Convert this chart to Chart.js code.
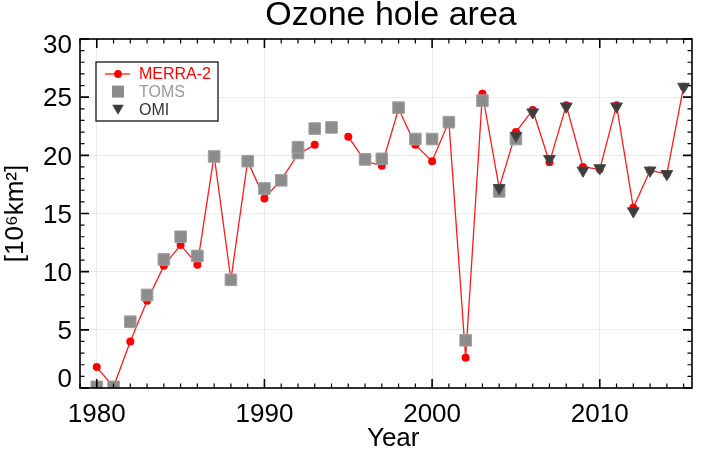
<!DOCTYPE html>
<html>
<head>
<meta charset="utf-8">
<title>Ozone hole area</title>
<script src="https://cdn.jsdelivr.net/npm/chart.js@4.4.1/dist/chart.umd.min.js"></script>
<style>
  body { margin: 0; background: #fff; }
  canvas { display: block; }
</style>
</head>
<body>
<canvas id="ozoneChart" width="705" height="453"></canvas>
<script>
// MERRA-2 (no value for 1994, so the line breaks there)
const merraYears = [1980, 1981, 1982, 1983, 1984, 1985, 1986, 1987, 1988, 1989,
                    1990, 1991, 1992, 1993, 1994, 1995, 1996, 1997, 1998, 1999,
                    2000, 2001, 2002, 2003, 2004, 2005, 2006, 2007, 2008, 2009,
                    2010, 2011, 2012, 2013, 2014, 2015];
const merraArea = [1.8, 0.1, 4.0, 7.5, 10.5, 12.3, 10.6, 20.0, 9.3, 19.5,
                   16.3, 17.9, 20.1, 20.9, null, 21.6, 19.5, 19.1, 24.0, 20.9,
                   19.5, 22.9, 2.6, 25.3, 17.2, 22.0, 23.9, 19.4, 24.3, 19.0,
                   18.8, 24.3, 15.5, 18.7, 18.4, 25.9];

// TOMS (two values in 1992, none in 1995)
const tomsYears = [1980, 1981, 1982, 1983, 1984, 1985, 1986, 1987, 1988, 1989,
                   1990, 1991, 1992, 1992, 1993, 1994, 1996, 1997, 1998, 1999,
                   2000, 2001, 2002, 2003, 2004, 2005];
const tomsArea = [0.1, 0.1, 5.7, 8.0, 11.05, 13.0, 11.35, 19.9, 9.3, 19.5,
                  17.15, 17.85, 20.2, 20.7, 22.3, 22.4, 19.65, 19.7, 24.1, 21.4,
                  21.4, 22.85, 4.1, 24.7, 16.9, 21.4];

// OMI
const omiYears = [2004, 2005, 2006, 2007, 2008, 2009, 2010, 2011, 2012, 2013, 2014, 2015];
const omiArea = [17.2, 21.7, 23.7, 19.7, 24.2, 18.7, 18.9, 24.2, 15.2, 18.7, 18.4, 25.9];

const xTickYears = [1980, 1990, 2000, 2010];
const legendTextColors = ['#ff0000', '#9a9a9a', '#333333'];

const FONT = '"Liberation Sans", Arial, Helvetica, sans-serif';

function points(xs, ys) {
  return xs.map((x, i) => ({ x: x, y: ys[i] }));
}

// frame with inward ticks on all four sides, title and boxed legend
const frameAndLegend = {
  id: 'frameAndLegend',
  afterDatasetsDraw(chart) {
    const { ctx, chartArea: a, scales: { x, y } } = chart;
    ctx.save();
    ctx.strokeStyle = '#000';
    for (let yr = Math.ceil(x.min); yr <= x.max; yr++) {
      const px = x.getPixelForValue(yr);
      const major = yr % 10 === 0;
      const len = major ? 9 : 4.5;
      ctx.lineWidth = major ? 1.6 : 1.2;
      ctx.beginPath();
      ctx.moveTo(px, a.bottom); ctx.lineTo(px, a.bottom - len);
      ctx.moveTo(px, a.top); ctx.lineTo(px, a.top + len);
      ctx.stroke();
    }
    for (let v = y.min; v <= y.max; v++) {
      const py = y.getPixelForValue(v);
      const major = v % 5 === 0;
      const len = major ? 9 : 4.5;
      ctx.lineWidth = major ? 1.6 : 1.2;
      ctx.beginPath();
      ctx.moveTo(a.left, py); ctx.lineTo(a.left + len, py);
      ctx.moveTo(a.right, py); ctx.lineTo(a.right - len, py);
      ctx.stroke();
    }
    ctx.lineWidth = 1.6;
    ctx.strokeRect(a.left, a.top, a.right - a.left, a.bottom - a.top);
    ctx.restore();
  },
  afterDraw(chart) {
    const { ctx, chartArea: a } = chart;
    ctx.save();

    // title
    ctx.fillStyle = '#000';
    ctx.font = '34px ' + FONT;
    ctx.textAlign = 'center';
    ctx.textBaseline = 'middle';
    ctx.fillText('Ozone hole area', (a.left + a.right) / 2 + 5, 16);

    // legend
    const lx = a.left + 16, ly = a.top + 23, lw = 122, lh = 59;
    ctx.fillStyle = '#fff';
    ctx.fillRect(lx, ly, lw, lh);
    ctx.strokeStyle = '#000';
    ctx.lineWidth = 1.2;
    ctx.strokeRect(lx, ly, lw, lh);

    ctx.font = '16px ' + FONT;
    ctx.textAlign = 'left';
    chart.data.datasets.forEach((ds, i) => {
      const cy = ly + 12 + i * 17.6;
      const cx = lx + 22;
      ctx.fillStyle = ds.pointBackgroundColor;
      if (ds.pointStyle === 'rect') {
        ctx.fillRect(cx - 6, cy - 6, 12, 12);
      } else if (ds.pointStyle === 'triangle') {
        ctx.beginPath();
        ctx.moveTo(cx - 5.8, cy - 4.5);
        ctx.lineTo(cx + 5.8, cy - 4.5);
        ctx.lineTo(cx, cy + 5.5);
        ctx.closePath();
        ctx.fill();
      } else {
        ctx.strokeStyle = ds.borderColor;
        ctx.lineWidth = ds.borderWidth;
        ctx.beginPath();
        ctx.moveTo(cx - 13, cy); ctx.lineTo(cx + 12, cy);
        ctx.stroke();
        ctx.beginPath();
        ctx.arc(cx, cy, 3.9, 0, Math.PI * 2);
        ctx.fill();
      }
      ctx.fillStyle = legendTextColors[i];
      ctx.fillText(ds.label, lx + 43, cy + 1);
    });
    ctx.restore();
  }
};

new Chart(document.getElementById('ozoneChart'), {
  type: 'line',
  data: {
    datasets: [
      {
        label: 'MERRA-2',
        data: points(merraYears, merraArea),
        borderColor: '#ff1a1a',
        borderWidth: 1.3,
        pointRadius: 4,
        pointBackgroundColor: '#ff0000',
        pointBorderWidth: 0,
        spanGaps: false,
        tension: 0,
        order: 3
      },
      {
        label: 'TOMS',
        data: points(tomsYears, tomsArea),
        showLine: false,
        pointStyle: 'rect',
        pointRadius: 8.2,
        pointBackgroundColor: '#8c8c8c',
        pointBorderColor: '#a0a0a0',
        pointBorderWidth: 1,
        clip: 0,
        order: 2
      },
      {
        label: 'OMI',
        data: points(omiYears, omiArea),
        showLine: false,
        pointStyle: 'triangle',
        pointRotation: 180,
        pointRadius: 6.8,
        pointBackgroundColor: '#3d3d3d',
        pointBorderColor: '#4a4a4a',
        pointBorderWidth: 1,
        order: 1
      }
    ]
  },
  options: {
    responsive: false,
    animation: false,
    devicePixelRatio: 1,
    events: [],
    layout: { padding: { top: 39, right: 13, left: 0, bottom: 0 } },
    plugins: {
      legend: { display: false },
      tooltip: { enabled: false },
      title: { display: false }
    },
    scales: {
      x: {
        type: 'linear',
        min: 1979,
        max: 2015.5,
        afterBuildTicks: (s) => { s.ticks = xTickYears.map(v => ({ value: v })); },
        afterFit: (s) => { s.height = 65; },
        ticks: {
          padding: 11,
          color: '#000',
          font: { size: 26, family: FONT },
          callback: (v) => String(v)
        },
        grid: { color: '#ebebeb', drawTicks: false },
        border: { display: false },
        title: {
          display: true,
          text: '  Year',
          color: '#000',
          font: { size: 26, family: FONT, lineHeight: 1 },
          padding: { top: 0, bottom: 1 }
        }
      },
      y: {
        min: 0,
        max: 30,
        afterFit: (s) => { s.width = 80; },
        ticks: {
          stepSize: 5,
          padding: 8,
          labelOffset: 2,
          color: '#000',
          font: (c) => ({
            size: 26,
            family: FONT,
            lineHeight: c.tick && c.tick.value === 30 ? '10px' : (c.tick && c.tick.value === 0 ? '20px' : 1.2)
          }),
          callback: (v) => v === 30 ? ['', '30'] : (v === 0 ? ['0', ''] : String(v))
        },
        grid: { color: '#ebebeb', drawTicks: false },
        border: { display: false },
        title: {
          display: true,
          text: '[10⁶km²]',
          color: '#000',
          font: { size: 26, family: FONT, lineHeight: 1 },
          padding: { top: 3, bottom: 0 }
        }
      }
    }
  },
  plugins: [frameAndLegend]
});
</script>
</body>
</html>
